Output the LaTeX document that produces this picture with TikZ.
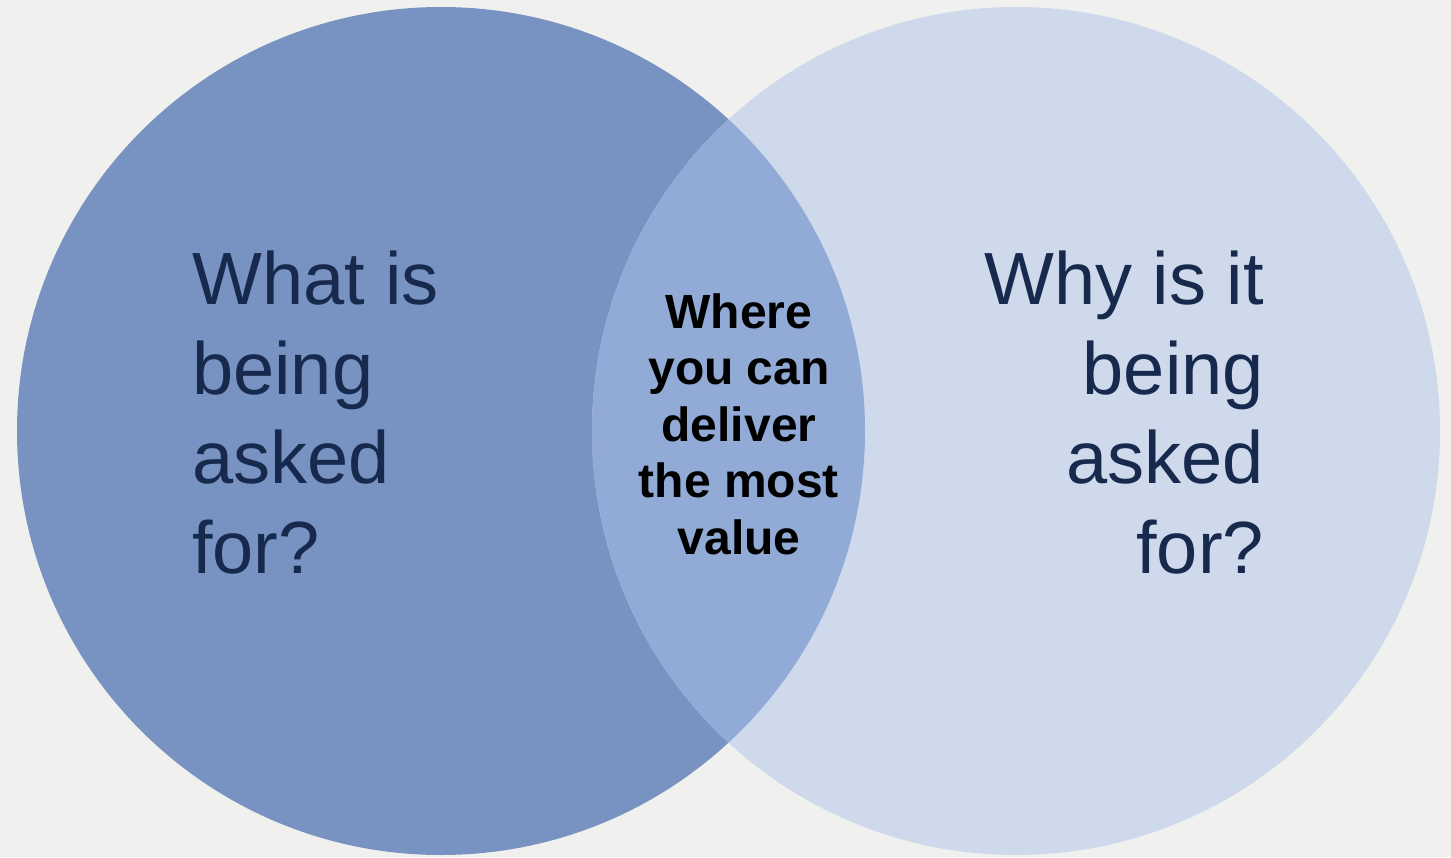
\documentclass[tikz,border=0pt]{standalone}
\usepackage{fontspec}
\setmainfont{Liberation Sans}
\usetikzlibrary{positioning}
\definecolor{bgcol}{RGB}{240,241,238}
\definecolor{whatcol}{RGB}{120,146,194}
\definecolor{whycol}{RGB}{206,217,235}
\definecolor{bothcol}{RGB}{145,170,214}
\definecolor{inkcol}{RGB}{23,42,78}

\begin{document}
\begin{tikzpicture}[x=1pt,y=-1pt,
    disc/.style={shape=circle,minimum size=848pt,inner sep=0pt,outer sep=0pt},
    bigtext/.style={inner sep=0pt,text=inkcol,
      font=\fontsize{74}{89.5}\selectfont},
    midtext/.style={inner sep=0pt,align=center,text=black,
      font=\fontsize{48}{56.5}\selectfont\bfseries}]

    % background and margins
    \fill[bgcol] (0,0) rectangle (1451,857);
    \useasboundingbox (0,0) rectangle (1451,857);

    % the two sets
    \node[disc,fill=whatcol] (what) at (441,431) {};
    \node[disc,fill=whycol] (why) at (1016,431) {};
    \begin{scope}
      \clip (what.center) circle (424);
      \fill[bothcol] (why.center) circle (424);
    \end{scope}

    % labels (base = last line)
    \node[bigtext,align=left,anchor=base west] (whatlbl) at (192,573)
      {What is\\being\\asked\\for?};
    \node[bigtext,align=right,anchor=base east] (whylbl) at (1264,573)
      {Why is it\\being\\asked\\for?};
    \node[midtext,anchor=base] (bothlbl) at (739,554)
      {Where\\you can\\deliver\\the most\\value};
\end{tikzpicture}
\end{document}
